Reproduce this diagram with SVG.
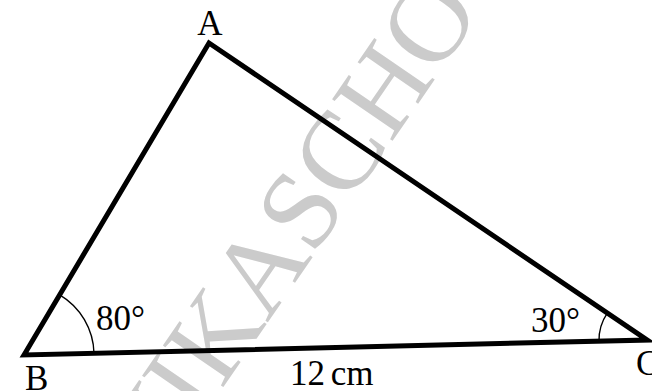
<svg xmlns="http://www.w3.org/2000/svg" width="652" height="391" viewBox="0 0 652 391">
<style>
.lbl{font-family:"Liberation Serif","Times New Roman",serif;font-size:35px;fill:#000}
.wm{font-family:"Liberation Serif","Times New Roman",serif;font-size:112px;fill:#cbcbcb}
.side{stroke:#000;stroke-width:5;fill:none;stroke-linejoin:miter;stroke-miterlimit:6}
.arc{stroke:#000;stroke-width:1.4;fill:none}
</style>
<rect width="652" height="391" fill="#fff"/>
<g id="watermark"><text class="wm" transform="translate(154.5,487.2) rotate(-55.5)" x="0" y="0">VIKASCHOOL</text></g>
<g id="connectors">
<path class="side" d="M24 355 L209 43 L647 340 Z"/>
<path class="arc" d="M94 353.3 A70 70 0 0 0 59.7 294.8"/>
<path class="arc" d="M599 341.2 A48 48 0 0 1 607.3 313.1"/>
</g>
<g id="node-A"><text class="lbl" x="210" y="35" text-anchor="middle">A</text></g>
<g id="node-B"><text class="lbl" x="25" y="390">B</text></g>
<g id="node-C"><text class="lbl" x="636" y="375">C</text></g>
<g id="angle-B"><text class="lbl" x="96" y="330">80°</text></g>
<g id="angle-C"><text class="lbl" x="531" y="332">30°</text></g>
<g id="side-BC"><text class="lbl" x="290" y="385" word-spacing="-3">12 cm</text></g>
</svg>
